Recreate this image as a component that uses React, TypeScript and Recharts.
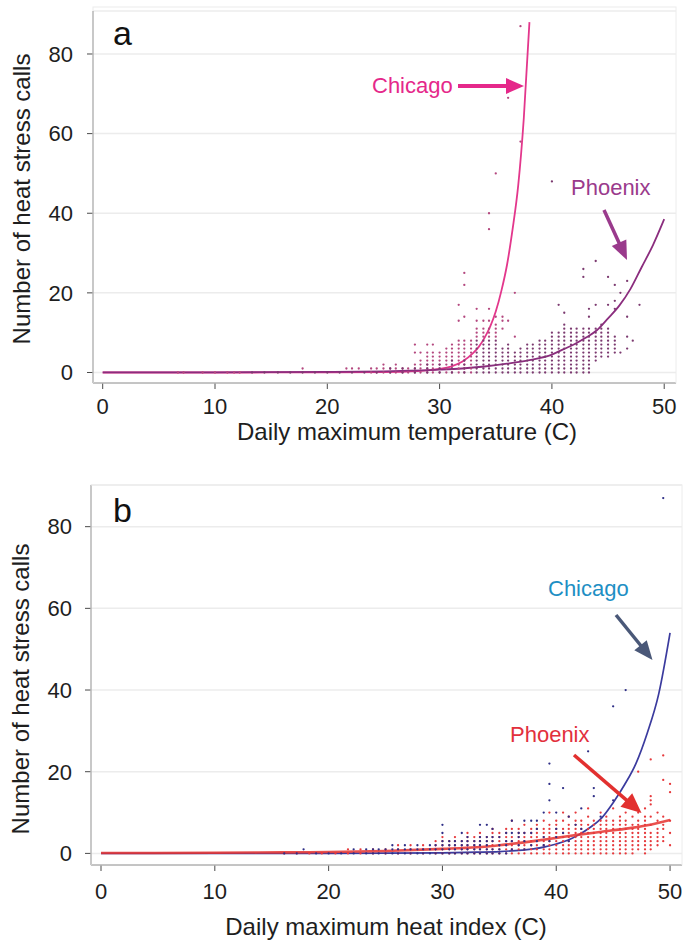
import React from 'react';
import { ComposedChart, Scatter, Line, XAxis, YAxis, CartesianGrid } from 'recharts';

const FONT = '"Liberation Sans", Arial, Helvetica, sans-serif';

// ---------- tick labels ----------
const xTicks = [0, 10, 20, 30, 40, 50];
const yTicks = [0, 20, 40, 60, 80];

// ---------- panel a: daily maximum temperature ----------
// scatter columns: [temperature (C), counts observed at that temperature]
const chicagoTempPts: [number, number[]][] = [
  [6.7, [0]], [7.2, [0]], [8.9, [0]], [10.0, [0]], [11.1, [0]], [11.7, [0]], [12.2, [0]],
  [17.8, [1]], [21.7, [1]], [22.2, [1]], [22.8, [1]], [23.9, [0, 1]], [24.4, [0, 1]],
  [25.0, [0, 1, 2]], [25.6, [0, 1]], [26.1, [0, 1, 2]], [26.7, [0, 1]], [27.2, [0, 1]],
  [27.8, [0, 1, 2, 5, 7]], [28.3, [0, 1, 2, 3, 5]], [28.9, [0, 1, 2, 3, 4, 5, 7]],
  [29.4, [0, 1, 2, 3, 4, 5, 7]], [30.0, [0, 1, 2, 3, 4, 5]], [30.6, [0, 1, 2, 3, 4, 5, 6]],
  [31.1, [0, 1, 2, 3, 4, 5, 6, 7]], [31.7, [0, 1, 2, 3, 4, 5, 6, 7, 8, 13, 17]],
  [32.2, [0, 1, 2, 3, 4, 5, 6, 7, 8, 14, 22, 25]], [32.8, [0, 1, 2, 3, 4, 5, 6, 7, 8]],
  [33.3, [9, 10, 11, 13, 16]], [33.9, [9, 10, 11, 13]], [34.4, [9, 10, 11, 13, 16, 36, 40]],
  [35.0, [9, 10, 11, 12, 14, 50]], [35.6, [11, 13, 14]], [36.1, [13, 69]], [36.7, [9, 20]],
  [37.2, [58, 87]],
];
const phoenixTempPts: [number, number[]][] = [
  [13.3, [0]], [14.4, [0]], [15.6, [0]], [16.7, [0]], [17.8, [0]], [18.9, [0]], [20.0, [0]],
  [21.1, [0]], [22.2, [0]], [23.3, [0]], [24.4, [0]], [25.6, [0, 1]], [26.7, [0, 1]],
  [27.8, [0, 1]], [28.9, [0, 1, 2]], [30.0, [0, 1, 2]], [31.1, [0, 1, 2, 3]], [32.2, [0, 1, 2, 3]],
  [33.3, [0, 1, 2, 3, 4, 5, 6, 7, 8]], [33.9, [0, 1, 2, 3, 4, 5, 6, 7, 8]],
  [34.4, [0, 1, 2, 3, 4, 5, 6, 7, 8]], [35.0, [0, 1, 2, 3, 4, 5, 6, 7, 8]],
  [35.6, [0, 1, 2, 3, 4, 5, 6]], [36.1, [0, 1, 2, 3, 4, 5, 6, 7]], [36.7, [0, 1, 2, 3, 4, 5]],
  [37.2, [0, 1, 2, 3, 4, 5, 6]], [37.8, [0, 1, 2, 3, 4, 5, 6, 7]], [38.3, [0, 1, 2, 3, 4, 5, 6, 7]],
  [38.9, [0, 1, 2, 3, 4, 5, 6, 7, 8]], [39.4, [0, 1, 2, 3, 4, 5, 6, 7, 8]],
  [40.0, [0, 1, 2, 3, 4, 5, 6, 7, 8, 9, 10, 48]], [40.6, [0, 1, 2, 3, 4, 5, 6, 7, 8, 9, 10, 17]],
  [41.1, [0, 1, 2, 3, 4, 5, 6, 7, 8, 9, 10, 11, 12, 15]], [41.7, [0, 1, 2, 3, 4, 5, 6, 7, 8, 9, 10, 11]],
  [42.2, [0, 1, 2, 3, 4, 5, 6, 7, 8, 9, 10, 11]], [42.8, [0, 1, 2, 3, 4, 5, 6, 7, 8, 9, 10, 11, 24, 26]],
  [43.3, [0, 1, 2, 3, 4, 5, 6, 7, 8, 9, 10, 11, 14, 16]], [43.9, [3, 4, 5, 6, 7, 8, 9, 10, 11, 17, 28]],
  [44.4, [4, 5, 6, 7, 8, 9, 10, 11, 12]], [45.0, [4, 5, 6, 7, 8, 9, 10, 11, 17, 24]],
  [45.6, [5, 6, 7, 8, 9, 16, 18, 22]], [46.1, [5, 20]], [46.7, [6, 9, 14, 23]], [47.2, [8]], [47.8, [17]],
];
// fitted curves [temperature, calls]
const chicagoTempFit: [number, number][] = [
  [0, 0], [10, 0], [20, 0.02], [25, 0.1], [28, 0.35], [30, 0.9], [31, 1.5], [32, 2.7], [33, 4.9],
  [33.5, 6.5], [34, 8.7], [34.5, 11.5], [35, 15.3], [35.5, 20.5], [36, 27], [36.5, 36], [37, 47],
  [37.5, 64], [38, 88],
];
const phoenixTempFit: [number, number][] = [
  [0, 0.02], [10, 0.05], [20, 0.15], [25, 0.3], [30, 0.7], [32, 1.0], [34, 1.5], [36, 2.2],
  [38, 3.1], [40, 4.5], [41, 5.8], [42, 7.1], [43, 8.7], [44, 10.6], [45, 13.6], [46, 16.8],
  [47, 21], [48, 26.5], [49, 32], [50, 38.5],
];

// ---------- panel b: daily maximum heat index ----------
const chicagoHiPts: [number, number[]][] = [
  [16.1, [0]], [17.2, [0]], [17.8, [1]], [18.9, [0]], [20.0, [0]], [21.1, [0]], [22.2, [0, 1]],
  [23.3, [0, 1]], [23.9, [0, 1]], [24.4, [0, 1]], [25.0, [0, 1]], [25.6, [0, 1, 2]], [26.1, [0, 1]],
  [26.7, [0, 1, 2]], [27.2, [0, 1]], [27.8, [0, 1, 2]], [28.3, [0, 1]], [28.9, [0, 1, 2]],
  [29.4, [0, 1, 2]], [30.0, [0, 1, 2, 3, 5, 7]], [30.6, [0, 1, 2, 3]], [31.1, [0, 1, 2, 3]],
  [31.7, [0, 1, 2, 3, 5]], [32.2, [0, 1, 2, 3, 4]], [32.8, [0, 1, 2, 3]], [33.3, [0, 1, 2, 3, 4, 7]],
  [33.9, [0, 1, 2, 3, 4, 7]], [34.4, [0, 1, 3, 4, 6]], [35.0, [0, 1, 2, 4]], [35.6, [0, 2, 3, 5]],
  [36.1, [1, 3, 5, 8]], [36.7, [2, 4, 5]], [37.2, [1, 3, 5, 8]], [37.8, [2, 5, 8]], [38.3, [3, 6, 8]],
  [38.9, [2, 4, 10]], [39.4, [3, 13, 17, 22]], [40.0, [4, 6, 10]], [40.6, [5, 16]], [41.1, [3, 9]],
  [41.7, [7]], [42.2, [6, 11]], [42.8, [25]], [43.3, [14, 16]], [43.9, [9]], [45.0, [13, 36]],
  [46.1, [40]], [49.4, [87]],
];
const phoenixHiPts: [number, number[]][] = [
  [16.1, [0]], [17.2, [0]], [18.3, [0]], [19.4, [0]], [20.6, [0]], [21.7, [0, 1]], [22.8, [0, 1]],
  [23.9, [0, 1]], [25.0, [0, 1]], [26.1, [0, 1, 2]], [27.2, [0, 1, 2]], [28.3, [0, 1, 2]],
  [29.4, [0, 1, 2, 3]], [30.0, [0, 1, 2, 3, 4]], [30.6, [0, 1, 2, 3]], [31.1, [0, 1, 2, 3, 4]],
  [31.7, [0, 1, 2, 3]], [32.2, [0, 1, 2, 3, 4, 5]], [32.8, [0, 1, 2, 3, 4]], [33.3, [0, 1, 2, 3, 4, 5]],
  [33.9, [0, 1, 2, 3, 4]], [34.4, [0, 1, 2, 3, 4, 5, 6]], [35.0, [0, 1, 2, 3, 4, 5]],
  [35.6, [0, 1, 2, 3, 4, 5, 6]], [36.1, [0, 1, 2, 3, 4, 6, 8]], [36.7, [0, 1, 2, 3, 4, 5, 6]],
  [37.2, [0, 1, 2, 3, 4, 5, 7]], [37.8, [0, 1, 2, 3, 4, 5, 6]], [38.3, [0, 1, 2, 3, 4, 5, 6, 7]],
  [38.9, [0, 1, 2, 3, 4, 5, 6, 8]], [39.4, [0, 1, 2, 3, 4, 5, 6, 7, 10]], [40.0, [0, 1, 2, 3, 4, 5, 6, 7, 8]],
  [40.6, [0, 1, 2, 3, 4, 5, 6, 8, 10]], [41.1, [0, 1, 2, 3, 4, 5, 6, 7, 9]],
  [41.7, [0, 1, 2, 3, 4, 5, 6, 7, 8, 10]], [42.2, [0, 1, 2, 3, 4, 5, 6, 7, 8]],
  [42.8, [0, 1, 2, 3, 4, 5, 6, 7, 9, 11]], [43.3, [0, 1, 2, 3, 4, 5, 6, 7, 8]],
  [43.9, [0, 1, 2, 3, 4, 5, 6, 7, 8, 10]], [44.4, [0, 1, 2, 3, 4, 5, 6, 7, 8, 9]],
  [45.0, [0, 1, 2, 3, 4, 5, 6, 7, 8, 11]], [45.6, [0, 1, 2, 3, 4, 5, 6, 7, 8, 9]],
  [46.1, [0, 1, 2, 3, 4, 5, 6, 7, 8, 10]], [46.7, [0, 1, 2, 3, 4, 5, 6, 7, 9, 12]],
  [47.2, [1, 2, 3, 4, 5, 6, 7, 8, 10, 20]], [47.8, [0, 1, 2, 3, 4, 5, 6, 7, 8, 9, 11]],
  [48.3, [1, 2, 3, 4, 5, 7, 9, 12, 13, 14, 23]], [48.9, [2, 3, 4, 5, 6, 8, 10]],
  [49.4, [3, 4, 6, 7, 9, 18, 24]], [50.0, [2, 5, 8, 15, 17]],
];
const chicagoHiFit: [number, number][] = [
  [0, 0], [10, 0], [20, 0.02], [25, 0.05], [30, 0.15], [33, 0.3], [35, 0.45], [37, 0.8], [38, 1.1],
  [39, 1.6], [40, 2.3], [41, 3.2], [42, 4.6], [43, 6.4], [44, 8.7], [45, 12.4], [46, 16.8],
  [47, 22], [48, 29.5], [49, 39], [50, 54],
];
const phoenixHiFit: [number, number][] = [
  [0, 0.1], [10, 0.15], [16, 0.25], [20, 0.35], [25, 0.6], [30, 1.1], [33, 1.5], [35, 2.0],
  [38, 3.0], [40, 3.8], [42, 4.6], [44, 5.3], [46, 6.0], [48, 6.9], [50, 8.2],
];

const cols = (c: [number, number[]][]) => c.flatMap(([x, ys]) => ys.map((y) => ({ x, y })));
const pairs = (p: [number, number][]) => p.map(([x, y]) => ({ x, y }));

const makeDot = (r: number) => (props: any) => {
  const { cx, cy, fill } = props;
  if (cx == null || cy == null) return <g />;
  return <circle cx={cx} cy={cy} r={r} fill={fill} />;
};

const tickStyle = { fill: '#1e1e1e', fontSize: 22, fontFamily: FONT };
const axisStroke = { stroke: '#4a4a4a', strokeWidth: 1 };

function Arrow({ x1, y1, x2, y2, color, w, hl, hw }: any) {
  const dx = x2 - x1, dy = y2 - y1;
  const L = Math.hypot(dx, dy);
  const ux = dx / L, uy = dy / L;
  const bx = x2 - ux * hl, by = y2 - uy * hl;
  const px = -uy, py = ux;
  return (
    <g>
      <line x1={x1} y1={y1} x2={bx + ux * 1} y2={by + uy * 1} stroke={color} strokeWidth={w} />
      <polygon points={`${x2},${y2} ${bx + px * hw},${by + py * hw} ${bx - px * hw},${by - py * hw}`} fill={color} />
    </g>
  );
}

export default function App() {
  return (
    <div style={{ position: 'absolute', left: 0, top: 0, width: 683, height: 943, background: '#fff', overflow: 'hidden' }}>
      {/* Panel a */}
      <div style={{ position: 'absolute', left: 0, top: 0 }}>
        <ComposedChart width={683} height={460} margin={{ top: 11, right: 7, bottom: 0, left: 0 }}>
          <CartesianGrid vertical={false} stroke="#ececec" strokeWidth={1.5} />
          <XAxis
            type="number" dataKey="x" domain={[-0.864, 51.05]} allowDataOverflow ticks={xTicks}
            height={77} tickSize={6} tickMargin={9} axisLine={axisStroke} tickLine={axisStroke} tick={tickStyle}
            label={{
              content: () => (
                <text x={407} y={440} textAnchor="middle" fontSize={24} fontFamily={FONT} fill="#1e1e1e">
                  Daily maximum temperature (C)
                </text>
              ),
            }}
          />
          <YAxis
            type="number" dataKey="y" domain={[-2.64, 90.8]} allowDataOverflow ticks={yTicks}
            width={93} tickSize={6} tickMargin={14} axisLine={axisStroke} tickLine={axisStroke} tick={tickStyle}
            label={{
              content: () => (
                <text x={30} y={199} transform="rotate(-90 30 199)" textAnchor="middle" fontSize={24} fontFamily={FONT} fill="#1e1e1e">
                  Number of heat stress calls
                </text>
              ),
            }}
          />
          <Scatter name="Chicago obs" data={cols(chicagoTempPts)} fill="#b4487f" shape={makeDot(1.15)} isAnimationActive={false} />
          <Scatter name="Phoenix obs" data={cols(phoenixTempPts)} fill="#7c3a70" shape={makeDot(1.15)} isAnimationActive={false} />
          <Line name="Chicago fit" data={pairs(chicagoTempFit)} dataKey="y" type="monotone" stroke="#e3378c" strokeWidth={1.8} dot={false} isAnimationActive={false} />
          <Line name="Phoenix fit" data={pairs(phoenixTempFit)} dataKey="y" type="monotone" stroke="#8b2d7e" strokeWidth={1.8} dot={false} isAnimationActive={false} />
        </ComposedChart>
      </div>

      {/* Panel b */}
      <div style={{ position: 'absolute', left: 0, top: 460 }}>
        <ComposedChart width={683} height={483} margin={{ top: 25, right: 1, bottom: 0, left: 0 }}>
          <CartesianGrid vertical={false} stroke="#ececec" strokeWidth={1.5} />
          <XAxis
            type="number" dataKey="x" domain={[-0.88, 51.05]} allowDataOverflow ticks={xTicks}
            height={78} tickSize={6} tickMargin={12} axisLine={axisStroke} tickLine={axisStroke} tick={tickStyle}
            label={{
              content: () => (
                <text x={386} y={475} textAnchor="middle" fontSize={24} fontFamily={FONT} fill="#1e1e1e">
                  Daily maximum heat index (C)
                </text>
              ),
            }}
          />
          <YAxis
            type="number" dataKey="y" domain={[-2.84, 90.2]} allowDataOverflow ticks={yTicks}
            width={91} tickSize={6} tickMargin={13} axisLine={axisStroke} tickLine={axisStroke} tick={tickStyle}
            label={{
              content: () => (
                <text x={28.5} y={229} transform="rotate(-90 28.5 229)" textAnchor="middle" fontSize={24} fontFamily={FONT} fill="#1e1e1e">
                  Number of heat stress calls
                </text>
              ),
            }}
          />
          <Scatter name="Phoenix obs" data={cols(phoenixHiPts)} fill="#e6393c" shape={makeDot(1.15)} isAnimationActive={false} />
          <Scatter name="Chicago obs" data={cols(chicagoHiPts)} fill="#2e2e86" shape={makeDot(1.15)} isAnimationActive={false} />
          <Line name="Chicago fit" data={pairs(chicagoHiFit)} dataKey="y" type="monotone" stroke="#3b3b9e" strokeWidth={1.7} dot={false} isAnimationActive={false} />
          <Line name="Phoenix fit" data={pairs(phoenixHiFit)} dataKey="y" type="monotone" stroke="#e5322f" strokeWidth={2.6} strokeOpacity={0.85} dot={false} isAnimationActive={false} />
        </ComposedChart>
      </div>

      {/* annotations */}
      <svg width={683} height={943} style={{ position: 'absolute', left: 0, top: 0, pointerEvents: 'none' }}>
        <rect x={93} y={7} width={583} height={376} fill="none" stroke="#ececec" strokeWidth={1} />
        <rect x={91} y={485} width={591} height={380} fill="none" stroke="#ececec" strokeWidth={1} />
        <text x={113} y={45} fontSize={34} fontFamily={FONT} fill="#111">a</text>
        <text x={113} y={522} fontSize={34} fontFamily={FONT} fill="#111">b</text>

        <text x={372} y={93} fontSize={22} fontFamily={FONT} fill="#e5288a">Chicago</text>
        <Arrow x1={458} y1={86} x2={524} y2={86} color="#e5288a" w={4} hl={18} hw={8} />
        <text x={571} y={195} fontSize={22} fontFamily={FONT} fill="#9a3a8c">Phoenix</text>
        <Arrow x1={604} y1={210} x2={627} y2={260} color="#9a3a8c" w={3.5} hl={19} hw={8} />

        <text x={548} y={596} fontSize={22} fontFamily={FONT} fill="#1e8fc4">Chicago</text>
        <Arrow x1={616} y1={615} x2={652.5} y2={660} color="#4a5878" w={3.5} hl={19} hw={8} />
        <text x={510} y={742} fontSize={22} fontFamily={FONT} fill="#e2303c">Phoenix</text>
        <Arrow x1={574} y1={755} x2={641.5} y2={813} color="#e2302f" w={3.5} hl={20} hw={9} />
      </svg>
    </div>
  );
}
